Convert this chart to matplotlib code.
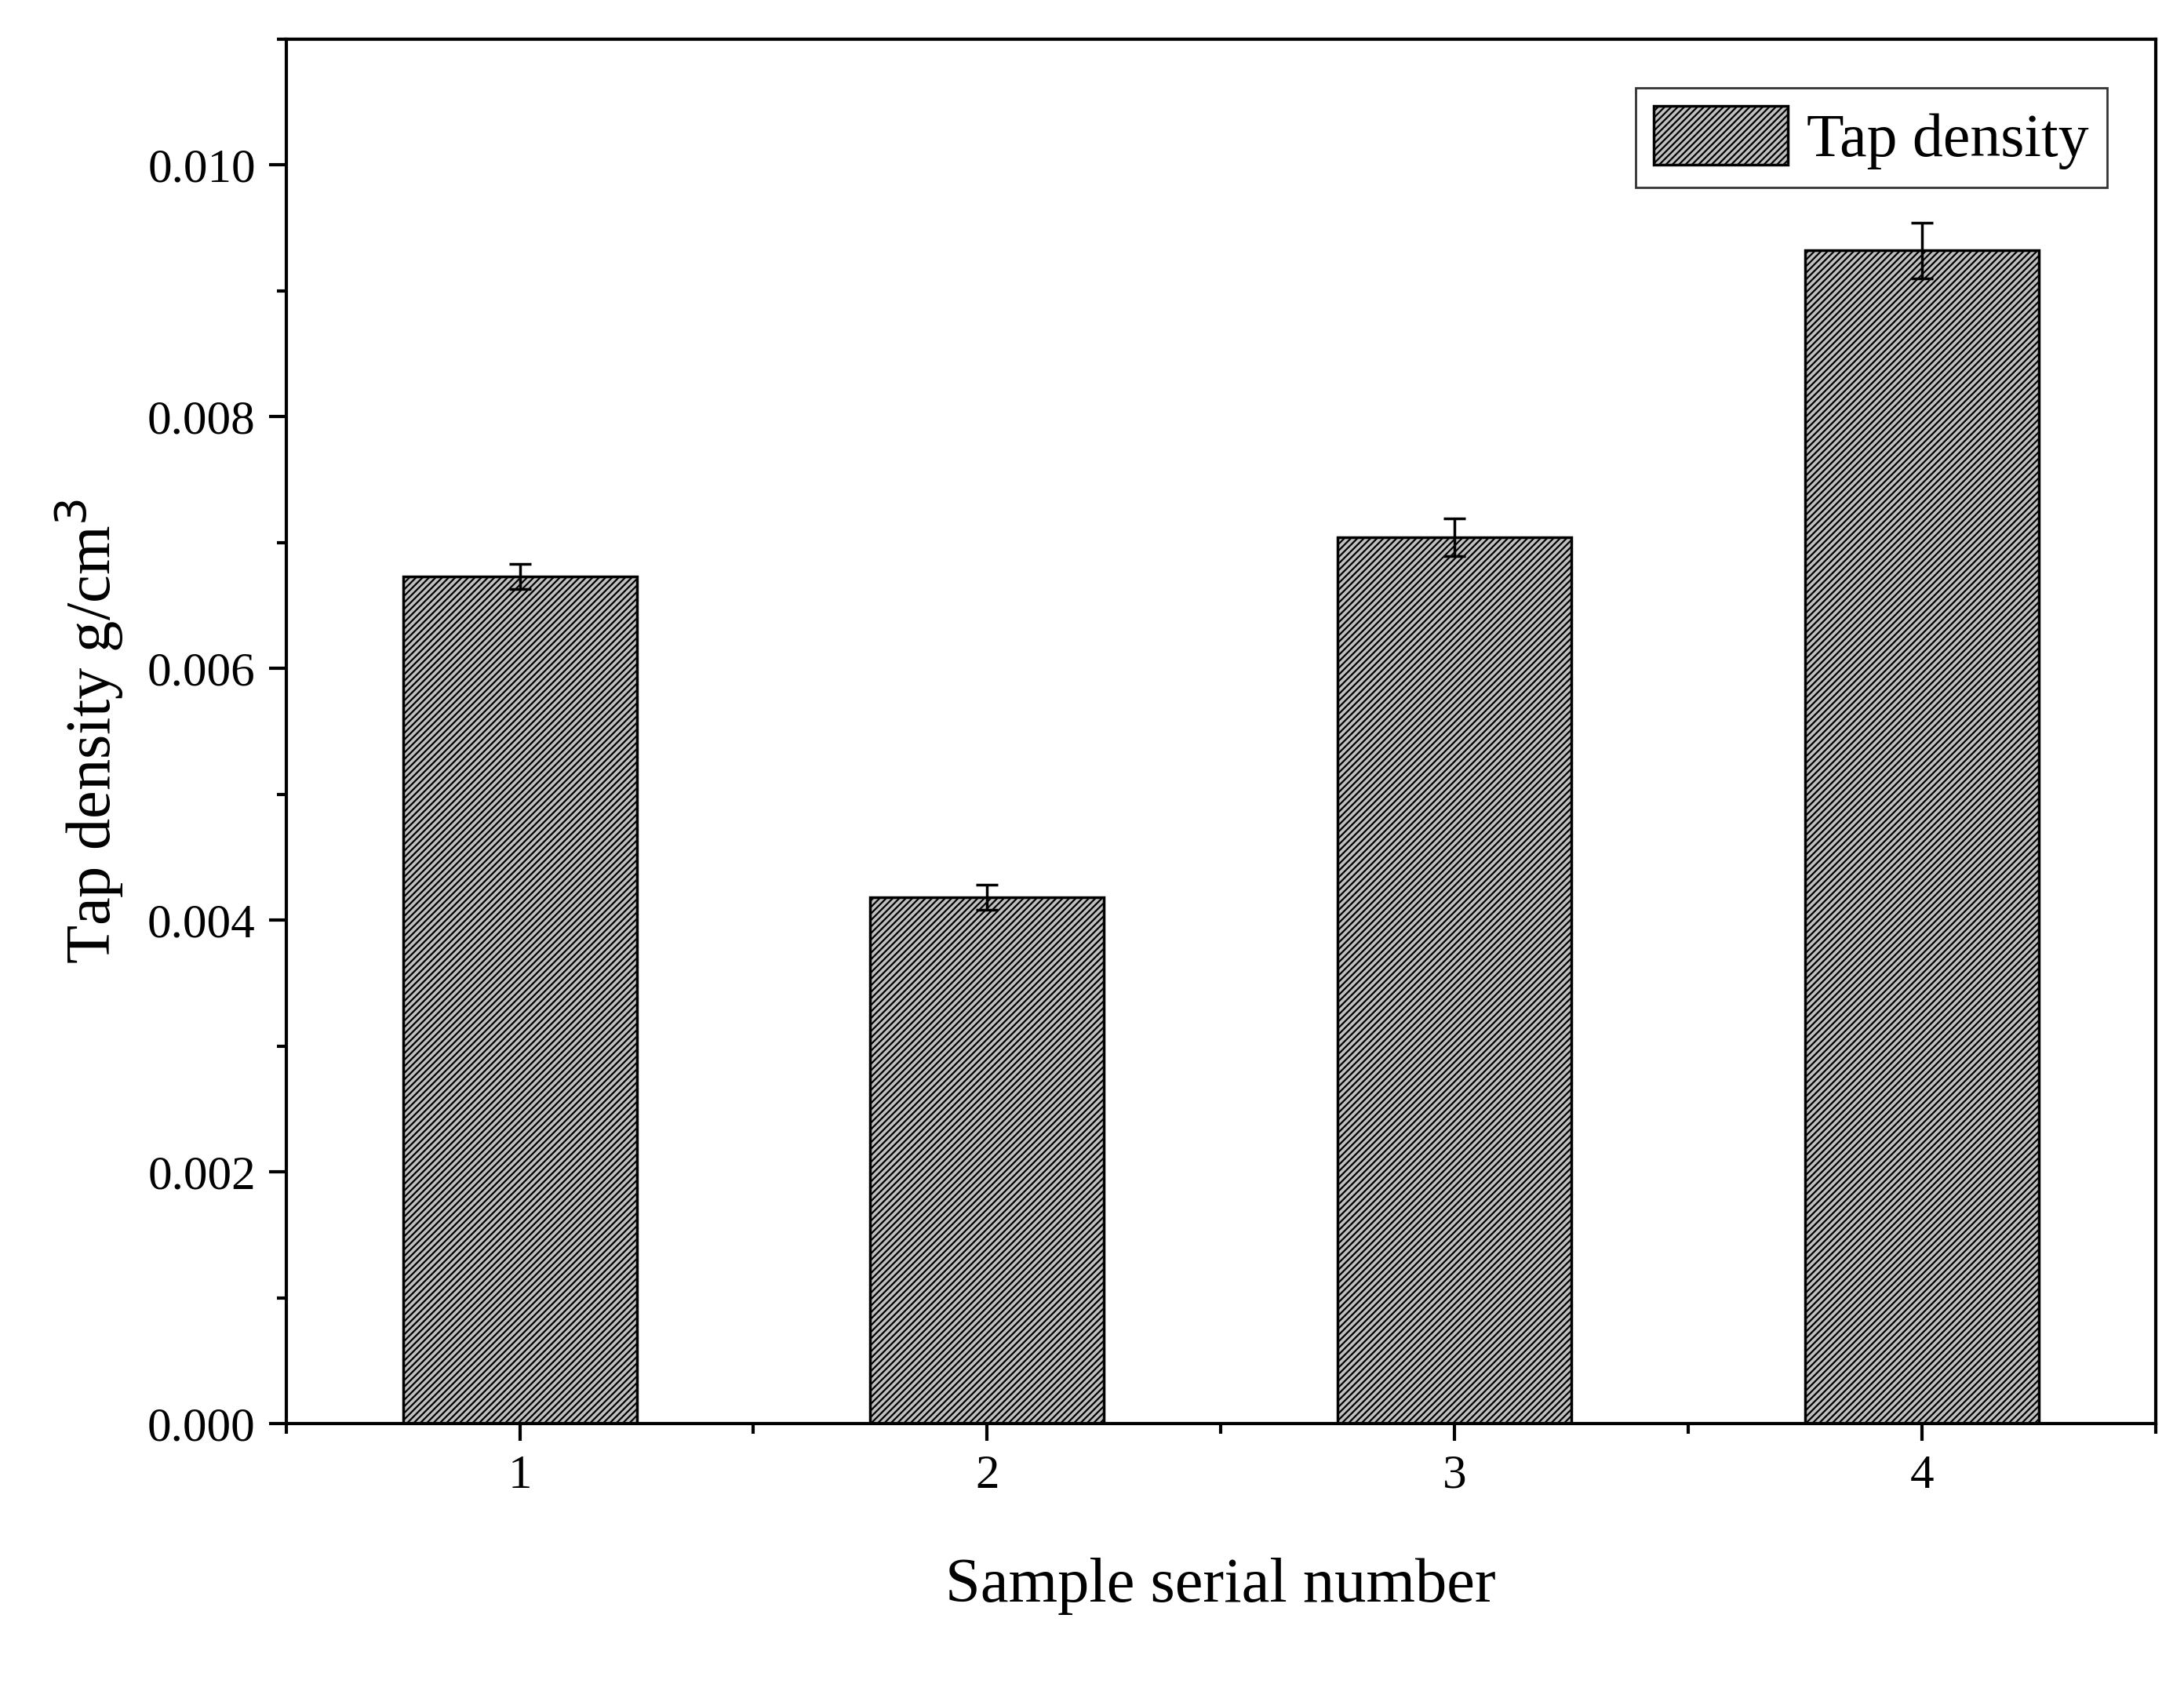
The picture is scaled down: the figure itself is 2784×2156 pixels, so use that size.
import matplotlib
matplotlib.use("Agg")
import matplotlib.pyplot as plt
from matplotlib.ticker import MultipleLocator

samples = [1, 2, 3, 4]
tap_density = [0.00673, 0.00418, 0.00704, 0.00932]
tap_error = [0.00010, 0.00010, 0.00015, 0.00022]

plt.rcParams["font.family"] = ["Liberation Serif", "DejaVu Serif"]
plt.rcParams["hatch.linewidth"] = 1.6

fig = plt.figure(figsize=(27.84, 21.56), dpi=100)
ax = fig.add_axes([0.131, 0.158, 0.856, 0.819])

ax.bar(samples, tap_density, width=0.5, color="#c0c0c0", edgecolor="black",
       linewidth=2.5, hatch="////", label="Tap density")
ax.errorbar(samples, tap_density, yerr=tap_error, fmt="none", ecolor="black",
            elinewidth=2.5, capsize=10, capthick=2.5)

ax.set_xlim(0.5, 4.5)
ax.set_ylim(0, 0.011)
ax.set_xticks(samples)
ax.xaxis.set_minor_locator(MultipleLocator(0.5))
ax.yaxis.set_major_locator(MultipleLocator(0.002))
ax.yaxis.set_minor_locator(MultipleLocator(0.001))
ax.yaxis.set_major_formatter(matplotlib.ticker.FormatStrFormatter("%.3f"))
for s in ax.spines.values():
    s.set_linewidth(3)
ax.tick_params(which="major", direction="out", length=16, width=3, labelsize=44, pad=12)
ax.tick_params(which="minor", direction="out", length=9, width=3)

ax.set_xlabel("Sample serial number", fontsize=58, labelpad=55)
ax.set_ylabel("Tap density g/cm$^3$", fontsize=58, labelpad=20)

leg = ax.legend(loc="upper right", fontsize=56, fancybox=False, edgecolor="black",
                handlelength=2.2, handleheight=1.1, borderaxespad=0.8,
                handletextpad=0.3, borderpad=0.3)
leg.get_frame().set_linewidth(2)

fig.savefig("out.png")
